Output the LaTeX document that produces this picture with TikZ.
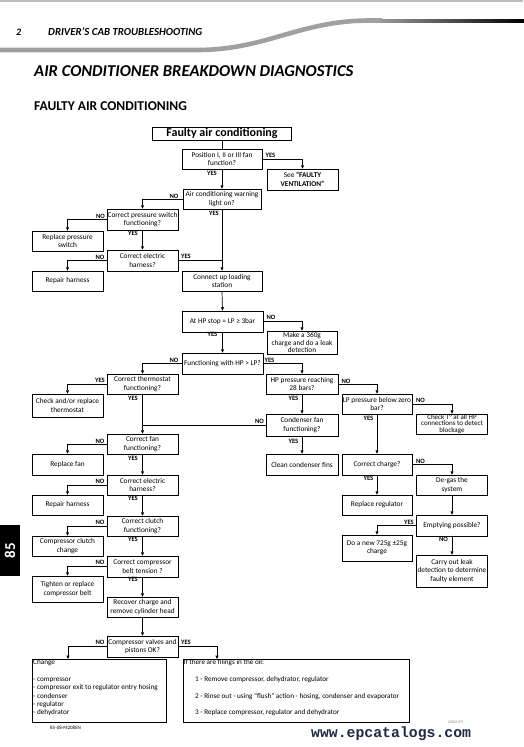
\documentclass[tikz,border=0pt]{standalone}
\usepackage{fontspec}
\setmainfont{Carlito}
\newfontfamily\monob{Liberation Mono}
\usetikzlibrary{arrows.meta}
\definecolor{wm}{HTML}{1C2A48}
\definecolor{swg}{HTML}{A0A0A0}
\newcommand\fsbox{\fontsize{7.3}{8.5}\selectfont}
\newcommand\B[6]{\node[bx, minimum width=#4pt, minimum height=#5pt] (#1) at (#2,#3) {#6};}
\begin{document}
\begin{tikzpicture}[x=1pt,y=-1pt,
  bx/.style={draw, line width=0.7pt, inner sep=0pt, align=center, font=\fsbox},
  lbl/.style={inner sep=0pt, font=\bfseries\fontsize{6.6}{7}\selectfont},
  arr/.style={line width=0.7pt, -{Triangle[length=3.4pt,width=3pt]}},
  ln/.style={line width=0.7pt},
  ftxt/.style={anchor=north west, inner sep=0pt, align=left, font=\fontsize{7.2}{8.33}\selectfont}]
\useasboundingbox (0,0) rectangle (523,747);
\fill[white] (0,0) rectangle (523,747);
% header
\draw[line width=1.5pt, swg!70] (0,0.9) -- (523,0.9);
\draw[line width=4.6pt, swg] (0,50) -- (200,50) .. controls (268,49) and (300,20.5) .. (370,20.5) -- (382,20.5);
\foreach \i in {0,...,95}{
  \pgfmathsetmacro{\gv}{int(5+95*\i/95)}
  \draw[line width=4pt, black!\gv!swg] ({380+1.5*\i},20.5) -- ({382+1.5*\i},20.5);
}
\node[anchor=west, inner sep=0pt, font=\bfseries\itshape\fontsize{10}{10}\selectfont] (pg) at (16,32) {2};
\node[anchor=west, inner sep=0pt, font=\bfseries\itshape\fontsize{10.8}{11}\selectfont] (hd) at (48,32) {DRIVER’S CAB TROUBLESHOOTING};
\node[anchor=west, inner sep=0pt, font=\bfseries\itshape\fontsize{16.6}{17}\selectfont] (t1) at (34,71) {AIR CONDITIONER BREAKDOWN DIAGNOSTICS};
\node[anchor=west, inner sep=0pt, font=\bfseries\fontsize{13.5}{14}\selectfont] (t2) at (34,106) {FAULTY AIR CONDITIONING};
% side tab
\fill[black] (0,525) rectangle (20,576);
\node[rotate=90, text=white, inner sep=0pt, font=\bfseries\fontsize{15}{15}\selectfont] (tab) at (10,550.5) {85};
% boxes
\node[draw, line width=0.9pt, inner sep=0pt, minimum width=139pt, minimum height=13pt, font=\bfseries\fontsize{12}{12}\selectfont] (title) at (222,133.5) {Faulty air conditioning};
\B{pos}{222}{159}{80}{20}{Position I, II or III fan\\function?}
\B{see}{302.5}{179.5}{71}{21}{See \textbf{“FAULTY}\\\textbf{VENTILATION”}}
\B{air}{222}{199}{78}{20}{Air conditioning warning\\light on?}
\B{cps}{142.5}{219.5}{71}{21}{Correct pressure switch\\functioning?}
\B{rps}{67.5}{241}{71}{20}{Replace pressure\\switch}
\B{ceh1}{142.5}{260.5}{71}{21}{Correct electric\\harness?}
\B{rh1}{67.5}{281}{71}{20}{Repair harness}
\B{cul}{222}{281}{80}{20}{Connect up loading\\station}
\B{hpstop}{222.5}{321.5}{81}{21}{At HP stop = LP ≥ 3bar}
\node[bx, minimum width=70pt, minimum height=23pt, font=\fontsize{7.3}{7.5}\selectfont] (make) at (302,342.5) {Make a 360g\\charge and do a leak\\detection};
\B{func}{222.5}{363.5}{81}{21}{Functioning with HP > LP?}
\B{cth}{142.5}{384}{71}{20}{Correct thermostat\\functioning?}
\B{chk}{67.5}{405.5}{71}{23}{Check and/or replace\\thermostat}
\B{hp28}{302}{384}{72}{20}{HP pressure reaching\\28 bars?}
\B{lp0}{377}{404}{70}{20}{LP pressure below zero\\bar?}
\node[bx, minimum width=71pt, minimum height=20pt, font=\fontsize{7}{6.2}\selectfont] (chkT) at (452,424) {Check T° at all HP\\connections to detect\\blockage};
\B{cfan}{302}{425}{72}{22}{Condenser fan\\functioning?}
\B{clean}{302}{464.5}{72}{21}{Clean condenser fins}
\B{cch}{377}{464.5}{70}{21}{Correct charge?}
\B{degas}{452}{485}{71}{20}{De-gas the\\system}
\B{rreg}{377}{505}{70}{20}{Replace regulator}
\B{empt}{452}{525.5}{71}{21}{Emptying possible?}
\B{new}{377}{548}{70}{26}{Do a new 725g ±25g\\charge}
\B{carry}{452}{571}{71}{32}{Carry out leak\\detection to determine\\faulty element}
\B{fan}{142.5}{444}{71}{20}{Correct fan\\functioning?}
\B{rfan}{67.5}{464.5}{71}{21}{Replace fan}
\B{ceh2}{142.5}{485}{71}{20}{Correct electric\\harness?}
\B{rh2}{67.5}{505}{71}{20}{Repair harness}
\B{clutch}{142.5}{526}{71}{20}{Correct clutch\\functioning?}
\B{ccc}{67.5}{546}{71}{20}{Compressor clutch\\change}
\B{belt}{142.5}{566.5}{71}{21}{Correct compressor\\belt tension ?}
\B{tight}{67.5}{589}{71}{26}{Tighten or replace\\compressor belt}
\B{recover}{142.5}{607}{71}{20}{Recover charge and\\remove cylinder head}
\B{valves}{142.5}{646.5}{71}{21}{Compressor valves and\\pistons OK?}
\node[draw, line width=0.7pt, minimum width=134pt, minimum height=63pt, inner sep=0pt] (change) at (99,690.5) {};
\node[draw, line width=0.7pt, minimum width=226pt, minimum height=63pt, inner sep=0pt] (fil) at (296,690.5) {};
\node[ftxt] (chgtxt) at (33,659.5) {Change\\\mbox{}\\- compressor\\- compressor exit to regulator entry hosing\\- condenser\\- regulator\\- dehydrator};
\node[ftxt] (filtxt1) at (183.5,659.5) {If there are filings in the oil:};
\node[ftxt] (filtxt2) at (195,676.2) {1 - Remove compressor, dehydrator, regulator\\\mbox{}\\2 - Rinse out - using “flush” action - hosing, condenser and evaporator\\\mbox{}\\3 - Replace compressor, regulator and dehydrator};
\coordinate (chgin) at (68,659);
\coordinate (filin) at (217,659);
% connectors
\draw[ln] (title.south) -- (pos.north);
\draw[arr] (pos.east) -| (see.north);
\draw[arr] (pos.south) -- (air.north);
\draw[arr] (air.west) -| (cps.north);
\draw[arr] (air.south) -- (cul.north);
\draw[arr] (cps.west) -| (rps.north);
\draw[arr] (cps.south) -- (ceh1.north);
\draw[arr] (ceh1.west) -| (rh1.north);
\draw[ln] (ceh1.east) -- (ceh1.east -| air.south);
\draw[arr] (cul.south) -- (hpstop.north);
\draw[arr] (hpstop.east) -| (make.north);
\draw[arr] (hpstop.south) -- (func.north);
\draw[arr] (func.west) -| (cth.north);
\draw[arr] (func.east) -| (hp28.north);
\draw[arr] (cth.west) -| (chk.north);
\draw[arr] (cth.south) -- (fan.north);
\draw[arr] (hp28.east) -| (lp0.north);
\draw[arr] (hp28.south) -- (cfan.north);
\draw[ln] (cfan.west) -- (cfan.west -| cth.south);
\draw[arr] (cfan.south) -- (clean.north);
\draw[arr] (lp0.east) -| (chkT.north);
\draw[arr] (lp0.south) -- (cch.north);
\draw[arr] (cch.east) -| (degas.north);
\draw[arr] (cch.south) -- (rreg.north);
\draw[arr] (degas.south) -- (empt.north);
\draw[arr] (empt.west) -| (new.north);
\draw[arr] (empt.south) -- (carry.north);
\draw[arr] (fan.west) -| (rfan.north);
\draw[arr] (fan.south) -- (ceh2.north);
\draw[arr] (ceh2.west) -| (rh2.north);
\draw[arr] (ceh2.south) -- (clutch.north);
\draw[arr] (clutch.west) -| (ccc.north);
\draw[arr] (clutch.south) -- (belt.north);
\draw[arr] (belt.west) -| (tight.north);
\draw[arr] (belt.south) -- (recover.north);
\draw[arr] (recover.south) -- (valves.north);
\draw[arr] (valves.west) -| (chgin);
\draw[arr] (valves.east) -| (filin);
% labels
\node[lbl] (l1) at (270.5,155) {YES};
\node[lbl] (l2) at (212,173) {YES};
\node[lbl] (l3) at (174,196) {NO};
\node[lbl] (l4) at (214,213) {YES};
\node[lbl] (l5) at (100.5,216) {NO};
\node[lbl] (l6) at (133,233.5) {YES};
\node[lbl] (l7) at (100,257) {NO};
\node[lbl] (l8) at (186,256.5) {YES};
\node[lbl] (l9) at (271,317) {NO};
\node[lbl] (l10) at (212.5,334.5) {YES};
\node[lbl] (l11) at (174,360) {NO};
\node[lbl] (l12) at (269.5,360) {YES};
\node[lbl] (l13) at (346,381) {NO};
\node[lbl] (l14) at (293.5,398) {YES};
\node[lbl] (l15) at (420.5,400.5) {NO};
\node[lbl] (l16) at (368.5,418) {YES};
\node[lbl] (l17) at (259.5,421.5) {NO};
\node[lbl] (l18) at (293.5,441) {YES};
\node[lbl] (l19) at (420.5,461.5) {NO};
\node[lbl] (l20) at (368.5,478) {YES};
\node[lbl] (l21) at (409,522.5) {YES};
\node[lbl] (l22) at (443.5,539) {NO};
\node[lbl] (l23) at (100,380.5) {YES};
\node[lbl] (l24) at (133,398) {YES};
\node[lbl] (l25) at (100,441) {NO};
\node[lbl] (l26) at (133,458.5) {YES};
\node[lbl] (l27) at (100,481.5) {NO};
\node[lbl] (l28) at (133,498) {YES};
\node[lbl] (l29) at (100,522.5) {NO};
\node[lbl] (l30) at (133,539) {YES};
\node[lbl] (l31) at (100,562.5) {NO};
\node[lbl] (l32) at (133,579.5) {YES};
\node[lbl] (l33) at (100,642.5) {NO};
\node[lbl] (l34) at (186,642.5) {YES};
% footer
\node[anchor=west, inner sep=0pt, font=\fontsize{5}{5}\selectfont] (code) at (50,728) {85-08-M208EN};
\node[anchor=west, inner sep=0pt, text=wm, font=\monob\bfseries\fontsize{14.8}{15}\selectfont] (www) at (311,733.5) {www.epcatalogs.com};
\node[anchor=west, inner sep=0pt, text=gray, font=\fontsize{3.8}{4}\selectfont] (dt) at (448,722.5) {(2002-07)};
\end{tikzpicture}
\end{document}
